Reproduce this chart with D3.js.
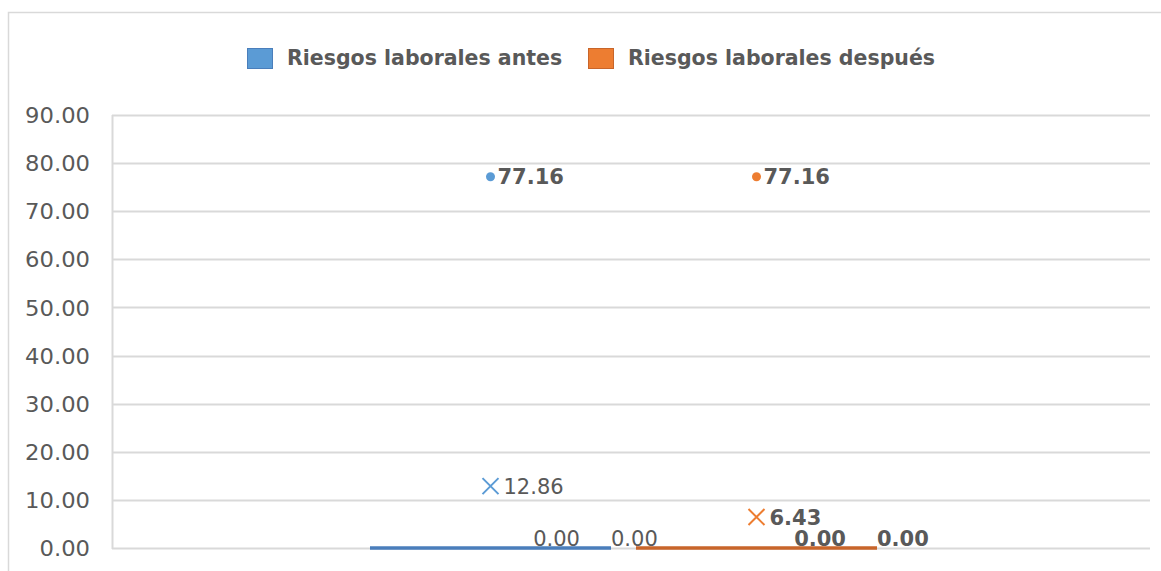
<!DOCTYPE html>
<html>
<head>
<meta charset="utf-8">
<script src="https://cdn.jsdelivr.net/npm/d3@7"></script>
<style>
  html, body { margin: 0; padding: 0; background: #fff; }
  svg { display: block; }
  text { font-family: "DejaVu Sans", Verdana, sans-serif; fill: #595959; }
</style>
</head>
<body>
<svg id="chart" width="1161" height="571"></svg>
<script>
// ---- data ----
const seriesNames = ["Riesgos laborales antes", "Riesgos laborales después"];
const seriesColors = ["#5B9BD5", "#ED7D31"];
const boxLineColors = ["#4A7EBB", "#C8652A"];
const q1Values = [0.00, 0.00];
const medianValues = [0.00, 0.00];
const q3Values = [0.00, 0.00];
const meanValues = [12.86, 6.43];
const outlierValues = [77.16, 77.16];
const labelBold = [false, true];
const yTicks = [0, 10, 20, 30, 40, 50, 60, 70, 80, 90];

// ---- layout ----
const W = 1161, H = 571;
const plot = { left: 112, right: 1150, top: 115, bottom: 548 };
const svg = d3.select("#chart");

// outer chart frame
svg.append("rect")
  .attr("x", 8.5).attr("y", 12.5)
  .attr("width", W + 20).attr("height", H + 20)
  .attr("fill", "#fff").attr("stroke", "#d9d9d9").attr("stroke-width", 1.5);

const y = d3.scaleLinear().domain([0, 90]).range([plot.bottom, plot.top]);
const x = d3.scaleBand().domain(seriesNames).range([370, 877]).paddingInner(0.094).paddingOuter(0);

// gridlines
svg.append("g").selectAll("line").data(yTicks).join("line")
  .attr("x1", plot.left).attr("x2", plot.right)
  .attr("y1", d => Math.round(y(d)) + 0.5).attr("y2", d => Math.round(y(d)) + 0.5)
  .attr("stroke", "#d9d9d9").attr("stroke-width", 2);

// left plot border
svg.append("line")
  .attr("x1", plot.left + 0.5).attr("x2", plot.left + 0.5)
  .attr("y1", y(90)).attr("y2", y(0) + 1)
  .attr("stroke", "#d9d9d9").attr("stroke-width", 2);

// y axis labels via d3 axis
const yAxis = d3.axisLeft(y).tickValues(yTicks).tickFormat(d3.format(".2f")).tickSize(0).tickPadding(0);
const gy = svg.append("g").attr("transform", `translate(90,0)`).call(yAxis);
gy.select(".domain").remove();
gy.selectAll("text")
  .style("font-family", '"DejaVu Sans", Verdana, sans-serif')
  .style("font-size", "21px").attr("fill", "#5f5f5f").attr("dy", "0.36em")
  .attr("x", 0)
  .attr("transform", "scale(1.08,1)");

// boxes (collapsed at 0)
const g = svg.append("g");
seriesNames.forEach((s, i) => {
  const x0 = x(s), bw = x.bandwidth(), cx = x0 + bw / 2;
  // box
  g.append("rect")
    .attr("x", x0).attr("y", y(q3Values[i]) - 1.5)
    .attr("width", bw).attr("height", Math.max(3, y(q1Values[i]) - y(q3Values[i])))
    .attr("fill", boxLineColors[i]);
  // median
  g.append("line")
    .attr("x1", x0).attr("x2", x0 + bw)
    .attr("y1", y(medianValues[i])).attr("y2", y(medianValues[i]))
    .attr("stroke", boxLineColors[i]).attr("stroke-width", 3);
  // mean marker (X)
  const my = y(meanValues[i]), r = 8;
  g.append("path")
    .attr("d", `M${cx - r},${my - r}L${cx + r},${my + r}M${cx - r},${my + r}L${cx + r},${my - r}`)
    .attr("stroke", seriesColors[i]).attr("stroke-width", 2).attr("fill", "none");
  g.append("text")
    .attr("x", cx + r + 5).attr("y", my).attr("dy", "0.36em")
    .style("font-size", "21px").style("font-weight", labelBold[i] ? "bold" : "normal")
    .text(meanValues[i].toFixed(2));
  // outlier
  const oy = y(outlierValues[i]);
  g.append("circle").attr("cx", cx).attr("cy", oy).attr("r", 4.5).attr("fill", seriesColors[i]);
  g.append("text")
    .attr("x", cx + 7).attr("y", oy).attr("dy", "0.36em")
    .style("font-size", "21px").style("font-weight", "bold")
    .text(outlierValues[i].toFixed(2));
  // quartile labels
  g.append("text")
    .attr("x", x0 + bw - 31).attr("y", y(medianValues[i]) - 10).attr("dy", "0.36em")
    .attr("text-anchor", "end")
    .style("font-size", "21px").style("font-weight", labelBold[i] ? "bold" : "normal")
    .text(medianValues[i].toFixed(2));
  g.append("text")
    .attr("x", x0 + bw).attr("y", y(q3Values[i]) - 10).attr("dy", "0.36em")
    .style("font-size", "21px").style("font-weight", labelBold[i] ? "bold" : "normal")
    .text(q3Values[i].toFixed(2));
});

// legend
const legend = svg.append("g");
const legendX = [247, 588];
seriesNames.forEach((s, i) => {
  legend.append("rect")
    .attr("x", legendX[i] + 0.5).attr("y", 48.5).attr("width", 25).attr("height", 20)
    .attr("fill", seriesColors[i]).attr("stroke", boxLineColors[i]).attr("stroke-width", 1);
  legend.append("text")
    .attr("x", legendX[i] + 40).attr("y", 58).attr("dy", "0.36em")
    .style("font-size", "20.5px").style("font-weight", "bold")
    .text(s);
});
</script>
</body>
</html>
